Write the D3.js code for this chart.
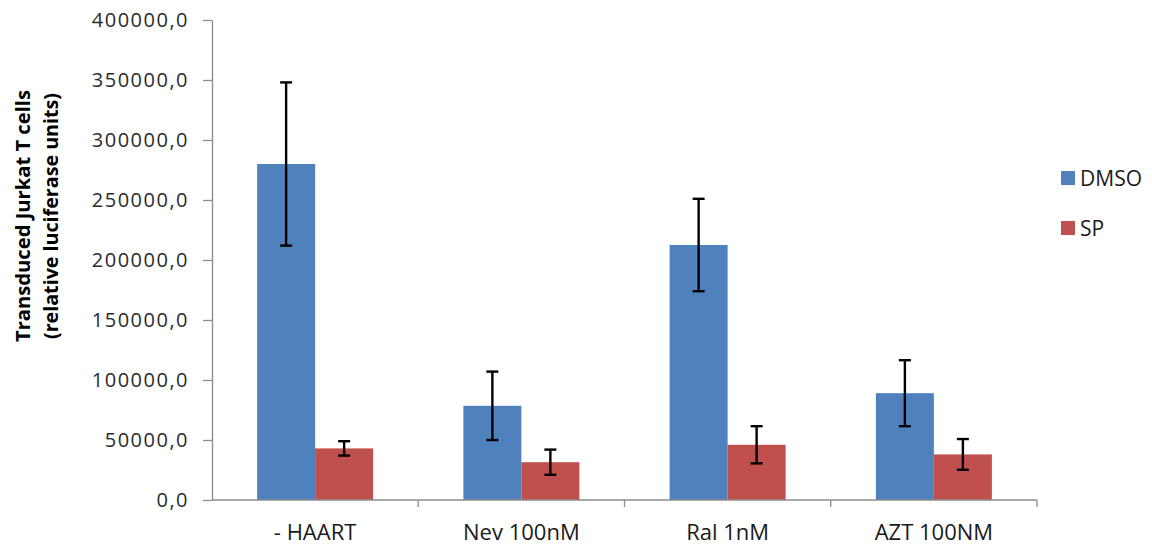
<!DOCTYPE html>
<html>
<head>
<meta charset="utf-8">
<script src="https://cdn.jsdelivr.net/npm/d3@7"></script>
<style>
  html, body { margin: 0; padding: 0; background: #fff; }
  svg { display: block; }
  text { font-family: "Open Sans", "Liberation Sans", sans-serif; }
</style>
</head>
<body>
<svg id="chart" width="1152" height="548"></svg>
<script>
// ---- data ----
const categories = ["- HAART", "Nev 100nM", "Ral 1nM", "AZT 100NM"];
const seriesNames = ["DMSO", "SP"];
const dmsoValues = [280000, 78500, 212500, 89000];
const dmsoErrors = [68000, 28500, 38500, 27500];
const spValues = [43000, 31500, 46000, 38000];
const spErrors = [6000, 10500, 15500, 12800];
const yTicks = [0, 50000, 100000, 150000, 200000, 250000, 300000, 350000, 400000];
const seriesColors = ["#4F81BD", "#C0504D"];

const rows = categories.map((c, i) => ({
  cat: c,
  vals: [
    { s: "DMSO", v: dmsoValues[i], e: dmsoErrors[i] },
    { s: "SP", v: spValues[i], e: spErrors[i] }
  ]
}));

const svg = d3.select("#chart");
const mLeft = 212, mRight = 1037, mTop = 20, mBottom = 500;

const y = d3.scaleLinear().domain([0, 400000]).range([mBottom, mTop]);
const x0 = d3.scaleBand().domain(categories).range([mLeft, mRight]).padding(0);
const x1 = d3.scaleBand().domain(seriesNames).range([0, x0.bandwidth()])
  .paddingInner(0).paddingOuter(0.778);
const color = d3.scaleOrdinal().domain(seriesNames).range(seriesColors);

const fmt = v => d3.format(".1f")(v).replace(".", ",");

// y axis
const yAxis = svg.append("g").attr("transform", `translate(${mLeft},0)`)
  .call(d3.axisLeft(y).tickValues(yTicks).tickSize(9).tickSizeOuter(0).tickPadding(14).tickFormat(fmt));
yAxis.select(".domain").attr("stroke", "#8c8c8c").attr("stroke-width", 1.3);
yAxis.selectAll(".tick line").attr("stroke", "#8c8c8c").attr("stroke-width", 1.3);
yAxis.selectAll(".tick text")
  .attr("font-size", 20).attr("fill", "#2b2b2b")
  .attr("font-family", "'Open Sans', sans-serif")
  .style("letter-spacing", "1.5px")
  .attr("dy", "0.34em");

// bars
const groups = svg.append("g").selectAll("g").data(rows).join("g")
  .attr("transform", d => `translate(${x0(d.cat)},0)`);

groups.selectAll("rect").data(d => d.vals).join("rect")
  .attr("x", d => x1(d.s))
  .attr("y", d => y(d.v))
  .attr("width", x1.bandwidth())
  .attr("height", d => y(0) - y(d.v))
  .attr("fill", d => color(d.s));

// error bars
const capW = 12;
const eb = groups.selectAll("g.err").data(d => d.vals).join("g").attr("class", "err")
  .attr("stroke", "#000").attr("stroke-width", 2.4);
eb.append("line")
  .attr("x1", d => x1(d.s) + x1.bandwidth() / 2).attr("x2", d => x1(d.s) + x1.bandwidth() / 2)
  .attr("y1", d => y(d.v + d.e)).attr("y2", d => y(d.v - d.e));
eb.append("line")
  .attr("x1", d => x1(d.s) + x1.bandwidth() / 2 - capW / 2).attr("x2", d => x1(d.s) + x1.bandwidth() / 2 + capW / 2)
  .attr("y1", d => y(d.v + d.e)).attr("y2", d => y(d.v + d.e));
eb.append("line")
  .attr("x1", d => x1(d.s) + x1.bandwidth() / 2 - capW / 2).attr("x2", d => x1(d.s) + x1.bandwidth() / 2 + capW / 2)
  .attr("y1", d => y(d.v - d.e)).attr("y2", d => y(d.v - d.e));

// x axis (ticks at category boundaries)
const xg = svg.append("g").attr("transform", `translate(0,${mBottom})`);
xg.append("line").attr("x1", mLeft).attr("x2", mRight).attr("y1", 0).attr("y2", 0)
  .attr("stroke", "#8c8c8c").attr("stroke-width", 1.3);
const boundaries = categories.map(c => x0(c) + x0.bandwidth());
xg.selectAll("line.tk").data(boundaries).join("line").attr("class", "tk")
  .attr("x1", d => d).attr("x2", d => d).attr("y1", 0).attr("y2", 7)
  .attr("stroke", "#8c8c8c").attr("stroke-width", 1.3);
xg.selectAll("text").data(categories).join("text")
  .attr("x", d => x0(d) + x0.bandwidth() / 2)
  .attr("y", 40)
  .attr("text-anchor", "middle")
  .attr("font-size", 22)
  .attr("fill", "#1a1a1a")
  .text(d => d);

// y title
const title = svg.append("g").attr("transform", "translate(0,216) rotate(-90)");
title.append("text").attr("x", 0).attr("y", 30).attr("text-anchor", "middle")
  .attr("font-size", 20).attr("font-weight", "bold").attr("fill", "#000")
  .attr("textLength", 252).attr("lengthAdjust", "spacingAndGlyphs")
  .text("Transduced Jurkat T cells");
title.append("text").attr("x", 0).attr("y", 58).attr("text-anchor", "middle")
  .attr("font-size", 20).attr("font-weight", "bold").attr("fill", "#000")
  .attr("textLength", 246).attr("lengthAdjust", "spacingAndGlyphs")
  .text("(relative luciferase units)");

// legend
const legend = svg.append("g");
const legY = [171, 221];
seriesNames.forEach((s, i) => {
  legend.append("rect").attr("x", 1061).attr("y", legY[i]).attr("width", 14).attr("height", 14)
    .attr("fill", color(s));
  legend.append("text").attr("x", 1080).attr("y", legY[i] + 14.5)
    .attr("font-size", 21).attr("fill", "#1a1a1a").text(s);
});
</script>
</body>
</html>
